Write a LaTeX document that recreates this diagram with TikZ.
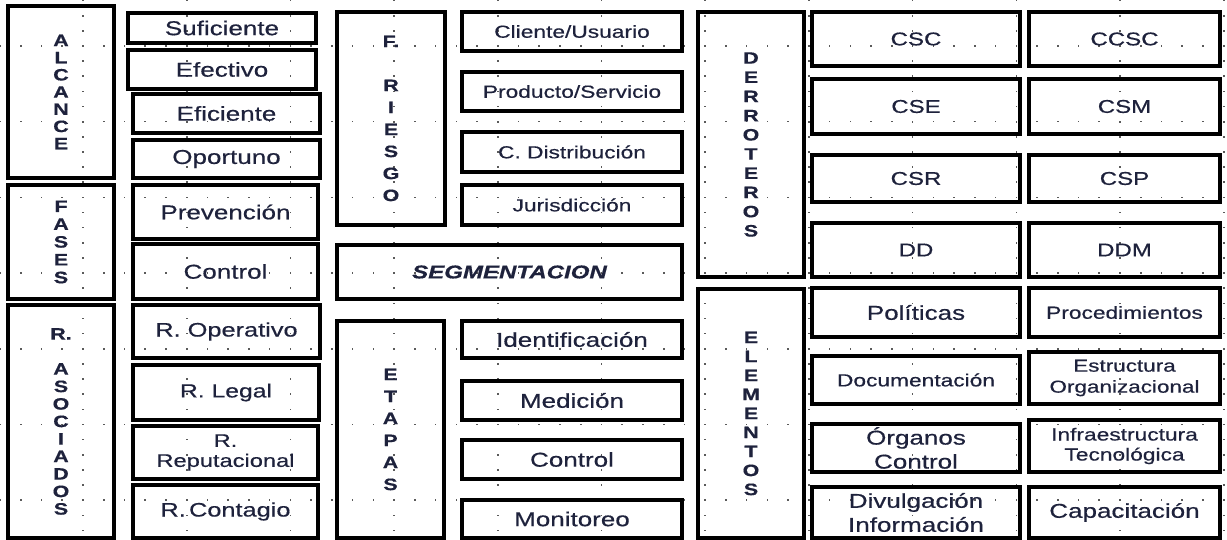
\documentclass[tikz,border=0pt]{standalone}
\usepackage{fontspec}
\setmainfont{Liberation Sans}
\newfontfamily\wide[FakeStretch=1.3,FakeBold=0.5]{Liberation Sans}
\definecolor{txt}{RGB}{30,34,60}
\definecolor{gdot}{RGB}{90,90,90}
\newcommand\vf[1]{\wide\bfseries\fontsize{16.5}{#1}\selectfont}
\newcommand\bx[7]{%
  \pgfmathsetmacro\myW{#4-#2}%
  \pgfmathsetmacro\myH{#5-#3}%
  \pgfmathsetmacro\myX{(#2+#4)/2}%
  \pgfmathsetmacro\myY{(#3+#5)/2}%
  \node[box,#6,minimum width=\myW pt,minimum height=\myH pt] (#1) at (\myX,\myY) {#7};}
\begin{document}
\begin{tikzpicture}[x=1pt,y=-1pt,
  box/.style={draw=black,line width=3.2pt,inner sep=0pt,align=center,text=txt,
    font=\wide\fontsize{20}{23}\selectfont},
  big/.style={font=\wide\fontsize{20}{24}\selectfont},
  small/.style={font=\wide\fontsize{17.5}{21}\selectfont},
  mid/.style={font=\wide\fontsize{18.5}{21}\selectfont},
  vert/.style={font=\vf{#1}},
  segm/.style={font=\wide\bfseries\itshape\fontsize{18.5}{21}\selectfont}]
\useasboundingbox (0,0) rectangle (1227,540);
\fill[white] (0,0) rectangle (1227,540);
% dotted grid
\foreach \k in {0,...,6}{\foreach \j in {0,...,59}{
  \fill[gdot] ({83+20.74*(\j-4)-0.8},{46+75.7*\k-0.8}) rectangle ++(1.6,1.6);}}
\foreach \i in {0,...,11}{\foreach \j in {0,...,35}{
  \fill[gdot] ({83+103.7*\i-0.8},{0.6+15.14*\j-0.8}) rectangle ++(1.6,1.6);}}
% column A
\bx{alc}{8}{6}{114}{178}{vert=17.2}{A\\L\\C\\A\\N\\C\\E}
\bx{fas}{8}{185}{114}{299}{vert=17.8}{F\\A\\S\\E\\S}
\bx{ras}{8}{305}{114}{538}{vert=17.5}{R.\\\mbox{}\\A\\S\\O\\C\\I\\A\\D\\O\\S}
% column B
\bx{suf}{128}{13}{316}{43}{big}{Suficiente}
\bx{efe}{128}{50}{316}{89}{big}{Efectivo}
\bx{efi}{133}{94}{320}{133}{big}{Eficiente}
\bx{opo}{133}{140}{320}{178}{big}{Oportuno}
\bx{pre}{133}{185}{318}{239}{big}{Prevención}
\bx{con}{133}{244}{318}{299}{big}{Control}
\bx{rop}{133}{305}{320}{358}{font=\wide\fontsize{19.5}{23}\selectfont}{R. Operativo}
\bx{rle}{133}{365}{319}{420}{font=\wide\fontsize{19}{23}\selectfont}{R. Legal}
\bx{rre}{133}{426}{318}{479}{font=\wide\fontsize{18.2}{20}\selectfont}{R.\\Reputacional}
\bx{rco}{133}{485}{318}{538}{font=\wide\fontsize{19.5}{23}\selectfont}{R.\,Contagio}
% column C/D
\bx{fri}{337}{12}{445}{225}{vert=22}{F.\\\mbox{}\\R\\I\\E\\S\\G\\O}
\bx{cli}{462}{12}{682}{51}{small}{Cliente/Usuario}
\bx{pro}{462}{72}{682}{111}{small}{Producto/Servicio}
\bx{cdi}{462}{132}{682}{172}{small}{C. Distribución}
\bx{jur}{462}{185}{682}{225}{small}{Jurisdicción}
\bx{seg}{337}{245}{682}{299}{segm}{SEGMENTACION}
\bx{eta}{337}{321}{444}{538}{vert=22}{E\\T\\A\\P\\A\\S}
\bx{ide}{462}{321}{682}{358}{big}{Identificación}
\bx{med}{462}{381}{682}{420}{big}{Medición}
\bx{ctr}{462}{440}{682}{479}{big}{Control}
\bx{mon}{462}{500}{682}{538}{big}{Monitoreo}
% column E/F/G
\bx{der}{698}{12}{804}{277}{vert=19.2}{D\\E\\R\\R\\O\\T\\E\\R\\O\\S}
\bx{csc}{812}{12}{1020}{66}{mid}{CSC}
\bx{ccsc}{1029}{12}{1220}{66}{mid}{CCSC}
\bx{cse}{812}{79}{1020}{134}{mid}{CSE}
\bx{csm}{1029}{79}{1220}{134}{mid}{CSM}
\bx{csr}{812}{155}{1020}{202}{mid}{CSR}
\bx{csp}{1029}{155}{1220}{202}{mid}{CSP}
\bx{dd}{812}{223}{1020}{277}{mid}{DD}
\bx{ddm}{1029}{223}{1220}{277}{mid}{DDM}
\bx{ele}{698}{289}{804}{538}{vert=19}{E\\L\\E\\M\\E\\N\\T\\O\\S}
\bx{pol}{812}{288}{1020}{337}{big}{Políticas}
\bx{proc}{1029}{288}{1220}{337}{small}{Procedimientos}
\bx{doc}{812}{356}{1020}{404}{small}{Documentación}
\bx{est}{1029}{352}{1220}{404}{font=\wide\fontsize{17.3}{21}\selectfont}{Estructura\\Organizacional}
\bx{org}{812}{424}{1020}{472}{big}{Órganos\\Control}
\bx{inf}{1029}{420}{1220}{472}{font=\wide\fontsize{17.5}{20}\selectfont}{Infraestructura\\Tecnológica}
\bx{div}{812}{487}{1020}{538}{big}{Divulgación\\Información}
\bx{cap}{1029}{487}{1220}{538}{big}{Capacitación}
\end{tikzpicture}
\end{document}
